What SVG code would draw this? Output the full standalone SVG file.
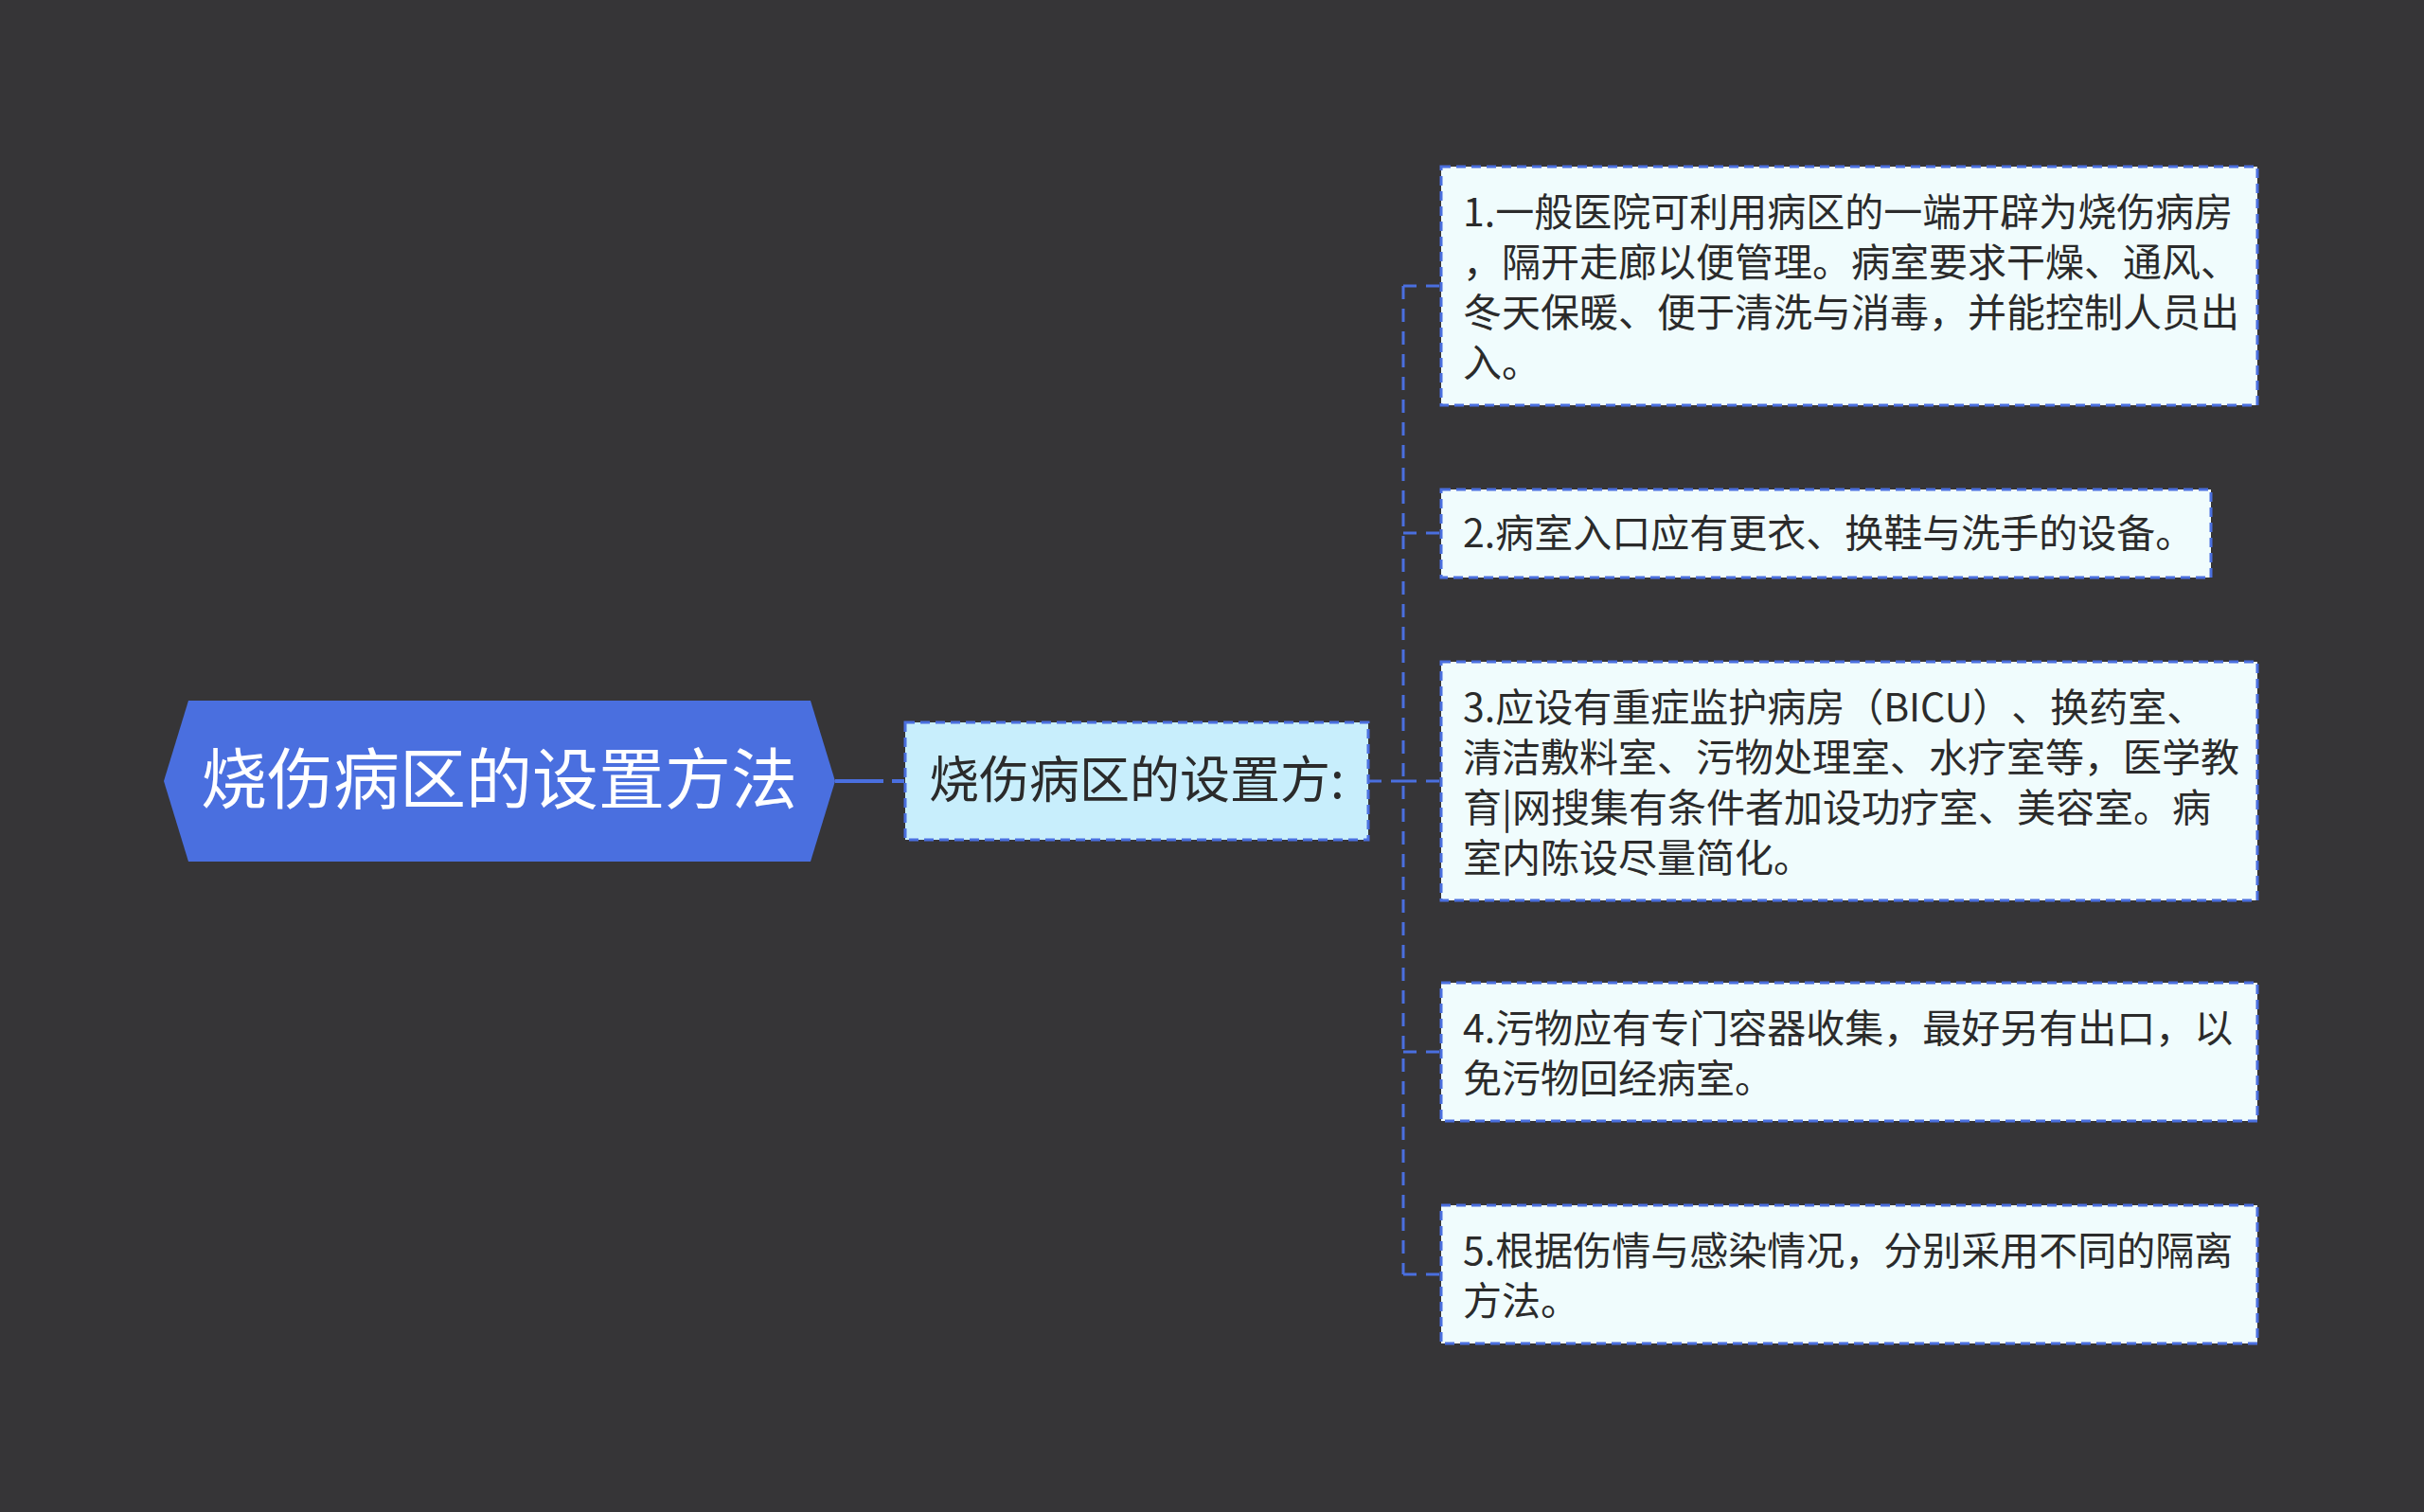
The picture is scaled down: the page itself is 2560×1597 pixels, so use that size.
<svg xmlns="http://www.w3.org/2000/svg" width="2560" height="1597" viewBox="0 0 2560 1597">
<style>
.bg{fill:#363537}
.root{fill:#4a6fdf}
.rootText{fill:#ffffff;font-family:"Noto Sans CJK SC","Noto Sans",sans-serif;font-size:70px}
.sub{fill:#c8eefc;stroke:#4a6fdf;stroke-width:3;stroke-dasharray:10 6}
.subText{fill:#2b2b2b;font-family:"Noto Sans CJK SC","Noto Sans",sans-serif;font-size:53px}
.leaf{fill:#f0fcfd;stroke:#4a6fdf;stroke-width:3;stroke-dasharray:10 6}
.leafText{fill:#2b2b2b;font-family:"Noto Sans CJK SC","Noto Sans",sans-serif;font-size:41px;text-spacing-trim:space-all}
.conn{fill:none;stroke:#4a6fdf;stroke-width:3;stroke-dasharray:14 10}
</style>
<rect class="bg" x="0" y="0" width="2560" height="1597"/>
<g id="connectors">
  <line x1="882" y1="825" x2="955" y2="825" stroke="#4a6fdf" stroke-width="4" stroke-dasharray="51 9 20"/>
  <path class="conn" d="M1445,825 H1482"/>
  <path class="conn" d="M1482,302 V1346"/>
  <path class="conn" d="M1482,302 H1522"/>
  <path class="conn" d="M1482,563 H1522"/>
  <path class="conn" d="M1482,825 H1522"/>
  <path class="conn" d="M1482,1111 H1522"/>
  <path class="conn" d="M1482,1346 H1522"/>
</g>
<g id="root">
  <polygon class="root" points="173,825 199,740 856,740 882,825 856,910 199,910"/>
  <text class="rootText" x="527" y="849" text-anchor="middle">烧伤病区的设置方法</text>
</g>
<g id="sub">
  <rect class="sub" x="956" y="763" width="489" height="124"/>
  <text class="subText" x="981" y="843">烧伤病区的设置方:</text>
</g>
<g id="leaf1">
  <rect class="leaf" x="1522" y="176" width="862" height="252"/>
  <text class="leafText"><tspan x="1545" y="239">1.一般医院可利用病区的一端开辟为烧伤病房</tspan><tspan x="1545" y="292">，隔开走廊以便管理。病室要求干燥、通风、</tspan><tspan x="1545" y="345">冬天保暖、便于清洗与消毒，并能控制人员出</tspan><tspan x="1545" y="398">入。</tspan></text>
</g>
<g id="leaf2">
  <rect class="leaf" x="1522" y="517" width="813" height="93"/>
  <text class="leafText" x="1545" y="578">2.病室入口应有更衣、换鞋与洗手的设备。</text>
</g>
<g id="leaf3">
  <rect class="leaf" x="1522" y="699" width="862" height="252"/>
  <text class="leafText"><tspan x="1545" y="762">3.应设有重症监护病房（BICU）、换药室、</tspan><tspan x="1545" y="815">清洁敷料室、污物处理室、水疗室等，医学教</tspan><tspan x="1545" y="868">育|网搜集有条件者加设功疗室、美容室。病</tspan><tspan x="1545" y="921">室内陈设尽量简化。</tspan></text>
</g>
<g id="leaf4">
  <rect class="leaf" x="1522" y="1038" width="862" height="146"/>
  <text class="leafText"><tspan x="1545" y="1101">4.污物应有专门容器收集，最好另有出口，以</tspan><tspan x="1545" y="1154">免污物回经病室。</tspan></text>
</g>
<g id="leaf5">
  <rect class="leaf" x="1522" y="1273" width="862" height="146"/>
  <text class="leafText"><tspan x="1545" y="1336">5.根据伤情与感染情况，分别采用不同的隔离</tspan><tspan x="1545" y="1389">方法。</tspan></text>
</g>
</svg>
